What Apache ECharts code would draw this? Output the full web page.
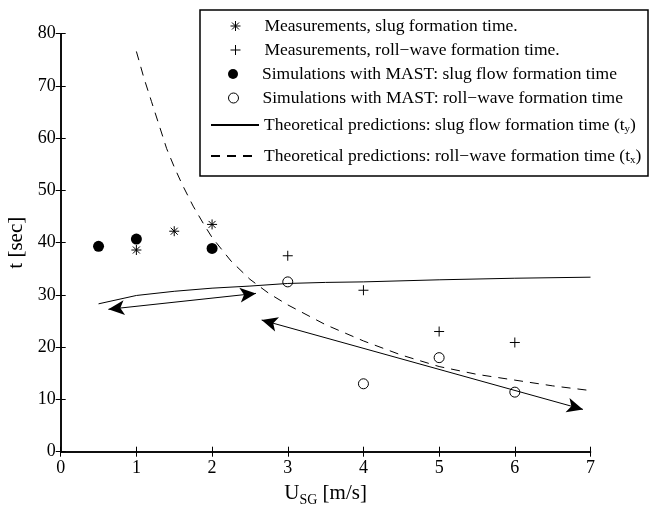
<!DOCTYPE html>
<html><head><meta charset="utf-8">
<script src="https://cdn.jsdelivr.net/npm/echarts@6/dist/echarts.min.js"></script>
<style>html,body{margin:0;padding:0;background:#fff}#c{width:649px;height:505px}</style>
</head><body><div id="c"></div>
<script>
// ---- data ----
const xTickRange = [0, 7];
const yTickRange = [0, 80];
const slugMeasX = [1, 1.5, 2];
const slugMeasY = [38.6, 42.2, 43.5];
const rollMeasX = [3, 4, 5, 6];
const rollMeasY = [37.5, 30.9, 23.0, 20.9];
const slugSimX = [0.5, 1, 2];
const slugSimY = [39.3, 40.7, 38.9];
const rollSimX = [3, 4, 5, 6];
const rollSimY = [32.5, 13.0, 18.0, 11.4];
const slugTheoryX = [0.5, 1, 1.5, 2, 2.5, 3, 3.5, 4, 5, 6, 7];
const slugTheoryY = [28.3, 29.9, 30.7, 31.3, 31.7, 32.2, 32.4, 32.5, 32.9, 33.2, 33.4];
const rollTheoryX = [1, 1.1, 1.2, 1.3, 1.4, 1.5, 1.6, 1.75, 1.9, 2, 2.25, 2.5, 2.75, 3, 3.5, 4, 4.5, 5, 5.5, 6, 6.5, 7];
const rollTheoryY = [76.6, 71.5, 67, 62.5, 58, 54.5, 51.3, 47, 43.3, 41, 36.5, 33, 30.3, 28.1, 24.3, 21.2, 18.5, 16.3, 14.8, 13.7, 12.6, 11.7];
const arrow1 = [[0.63, 27.25], [2.58, 30.3]];
const arrow2 = [[2.655, 25.2], [6.9, 8.1]];
const names = [
  'Measurements, slug formation time.',
  'Measurements, roll\u2212wave formation time.',
  'Simulations with MAST: slug flow formation time',
  'Simulations with MAST: roll\u2212wave formation time',
  'Theoretical predictions: slug flow formation time (t_y)',
  'Theoretical predictions: roll\u2212wave formation time (t_x)'
];
const xTitle = 'U{sub|SG} [m/s]';
const yTitle = 't [sec]';

// ---- build ----
const zip = (xs, ys) => xs.map((x, i) => [x, ys[i]]);
const FONT = '"Liberation Serif","Times New Roman",serif';
const STAR = 'path://M5,0L5,10M0,5L10,5M1.5,1.5L8.5,8.5M8.5,1.5L1.5,8.5';
const PLUS = 'path://M5,0L5,10M0,5L10,5';
const rowTops = [17, 41, 65, 89, 116, 147];
const isLine = [false, false, false, false, true, true];

const axisBase = {
  min: 0, axisLine: {show: true, lineStyle: {color: '#000', width: 1.5}},
  axisTick: {show: true, inside: true, length: 5, lineStyle: {color: '#000', width: 1}},
  splitLine: {show: false}
};
const legends = names.map((n, i) => ({
  data: [isLine[i] ? {name: n, itemStyle: {color: 'transparent', borderColor: 'transparent', opacity: 0}} : {name: n}],
  left: isLine[i] ? 210 : 228, top: rowTops[i], orient: 'vertical', padding: 0,
  itemWidth: 48, itemHeight: 10, itemGap: 0, selectedMode: false, z: 20,
  itemStyle: {borderWidth: 1},
  formatter: s => s.replace(/_(\w)\)/, '{sub|$1})'),
  textStyle: {fontFamily: FONT, fontSize: 17.5, color: '#000', padding: [0, 0, 0, 0],
    rich: {sub: {fontFamily: FONT, fontSize: 11, color: '#000', padding: [9, 0, 0, 0]}}}
}));

const option = {
  animation: false,
  backgroundColor: '#fff',
  grid: {left: 60.7, right: 58.5, top: 33.7, bottom: 53.3, containLabel: false, outerBoundsMode: 'none'},
  legend: legends,
  graphic: [{type: 'rect', shape: {x: 200, y: 10, width: 448, height: 166},
    style: {fill: '#fff', stroke: '#000', lineWidth: 1.5}, z: 10}],
  xAxis: [
    Object.assign({}, axisBase, {type: 'value', position: 'bottom', max: xTickRange[1], interval: 1,
      name: xTitle, nameLocation: 'middle', nameGap: 27,
      nameTextStyle: {fontFamily: FONT, fontSize: 21, color: '#000',
        rich: {sub: {fontFamily: FONT, fontSize: 14, color: '#000', padding: [14, 0, 0, 0]}}},
      axisLabel: {fontFamily: FONT, fontSize: 18, color: '#000', margin: 8}}),
    Object.assign({}, axisBase, {type: 'value', position: 'top', max: xTickRange[1], interval: 1,
      axisLabel: {show: false}})
  ],
  yAxis: [
    Object.assign({}, axisBase, {type: 'value', position: 'left', max: yTickRange[1], interval: 10,
      name: yTitle, nameLocation: 'middle', nameGap: 32, nameRotate: 90,
      nameTextStyle: {fontFamily: FONT, fontSize: 21, color: '#000'},
      axisLabel: {fontFamily: FONT, fontSize: 18, color: '#000', margin: 5}}),
    Object.assign({}, axisBase, {type: 'value', position: 'right', max: yTickRange[1], interval: 10,
      axisLabel: {show: false}})
  ],
  series: [
    {name: names[0], type: 'scatter', data: zip(slugMeasX, slugMeasY), symbol: STAR, symbolSize: 10,
      symbolKeepAspect: true, itemStyle: {color: 'none', borderColor: '#000', borderWidth: 1, opacity: 1}},
    {name: names[1], type: 'scatter', data: zip(rollMeasX, rollMeasY), symbol: PLUS, symbolSize: 10,
      symbolKeepAspect: true, itemStyle: {color: 'none', borderColor: '#000', borderWidth: 1, opacity: 1}},
    {name: names[2], type: 'scatter', data: zip(slugSimX, slugSimY), symbol: 'circle', symbolSize: 11,
      itemStyle: {color: '#000', opacity: 1}},
    {name: names[3], type: 'scatter', data: zip(rollSimX, rollSimY), symbol: 'circle', symbolSize: 10,
      itemStyle: {color: '#fff', borderColor: '#000', borderWidth: 1, opacity: 1}},
    {name: names[4], type: 'line', data: zip(slugTheoryX, slugTheoryY), symbol: 'none', smooth: false,
      itemStyle: {color: '#000'},
      lineStyle: {color: '#000', width: 1},
      markLine: {silent: true, symbol: ['arrow', 'arrow'], symbolSize: [11, 16], animation: false,
        lineStyle: {color: '#000', type: 'solid', width: 1}, label: {show: false},
        emphasis: {disabled: true},
        data: [[{coord: arrow1[0]}, {coord: arrow1[1]}], [{coord: arrow2[0]}, {coord: arrow2[1]}]]}},
    {name: names[5], type: 'line', data: zip(rollTheoryX, rollTheoryY), symbol: 'none', smooth: false,
      itemStyle: {color: '#000'},
      lineStyle: {color: '#000', width: 1, type: [9, 7]}}
  ]
};
const chart = echarts.init(document.getElementById('c'), null, {renderer: 'canvas'});
chart.setOption(option);
</script></body></html>
